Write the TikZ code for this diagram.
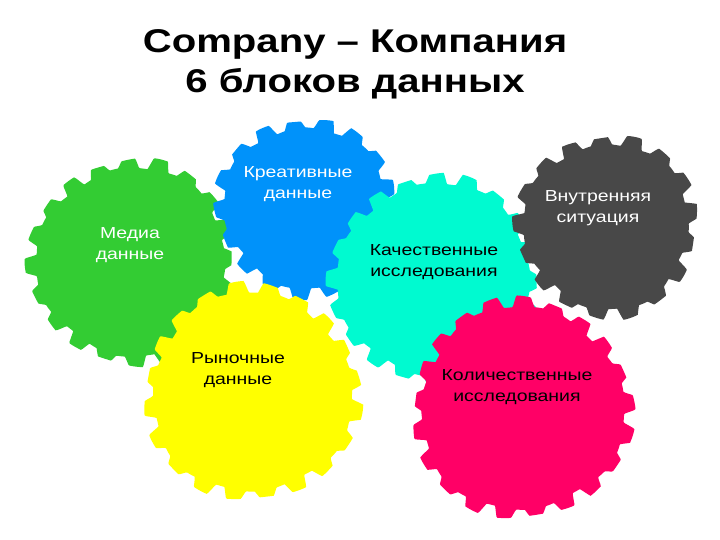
\documentclass[tikz,border=0pt]{standalone}
\usepackage{fontspec}
\setmainfont{Liberation Sans}[FakeStretch=1.22]
\usepackage{tikz}
\usetikzlibrary{positioning}
\definecolor{gearGreen}{RGB}{51,204,51}
\definecolor{gearBlue}{RGB}{0,146,250}
\definecolor{gearGray}{RGB}{72,72,72}
\definecolor{gearCyan}{RGB}{0,250,208}
\definecolor{gearYellow}{RGB}{255,255,0}
\definecolor{gearPink}{RGB}{255,0,102}
\tikzstyle{heading}=[inner sep=0pt, anchor=base, font=\fontsize{33}{40}\selectfont\bfseries]
\tikzstyle{label}=[inner sep=0pt, align=center, font=\fontsize{16}{20.5}\selectfont]
\tikzstyle{lightlabel}=[label, text=white]
\tikzstyle{darklabel}=[label, text=black]
% gear blob: x, y, radius, teeth, colour
\newcommand{\gearblob}[5]{%
  \fill[#5] plot[domain=0:360, samples=600, smooth]
    ({#1+(#3+(4.5+1.5*sin(7*\x+#2))*max(-1,min(1,2.4*sin(#4*\x+#1)+0.5))+2.5*sin(3*\x+#2))*cos(\x)},
     {#2+(#3+(4.5+1.5*sin(7*\x+#2))*max(-1,min(1,2.4*sin(#4*\x+#1)+0.5))+2.5*sin(3*\x+#2))*sin(\x)}) -- cycle;
}
\begin{document}
\begin{tikzpicture}[x=1bp, y=-1bp]
    \useasboundingbox (0,0) rectangle (720,540);
    % gears, back to front
    \gearblob{132}{262}{99}{20}{gearGreen}
    \gearblob{305}{207}{85}{17}{gearBlue}
    \gearblob{252}{393}{104}{20}{gearYellow}
    \gearblob{435}{280}{101}{20}{gearCyan}
    \gearblob{607}{226}{87}{17}{gearGray}
    \gearblob{522}{409}{106}{21}{gearPink}
    %
    \node (title1) [heading] at (355,53) {Company – Компания};
    \node (title2) [heading, below=40bp of title1.base, anchor=base] {6 блоков данных};
    %
    \node (media) [lightlabel] at (130,245) {Медиа\\данные};
    \node (creative) [lightlabel] at (298,184) {Креативные\\данные};
    \node (inner) [lightlabel] at (598,208) {Внутренняя\\ситуация};
    \node (quality) [darklabel] at (434,262) {Качественные\\исследования};
    \node (market) [darklabel] at (238,370) {Рыночные\\данные};
    \node (quantity) [darklabel] at (517,387) {Количественные\\исследования};
\end{tikzpicture}
\end{document}
